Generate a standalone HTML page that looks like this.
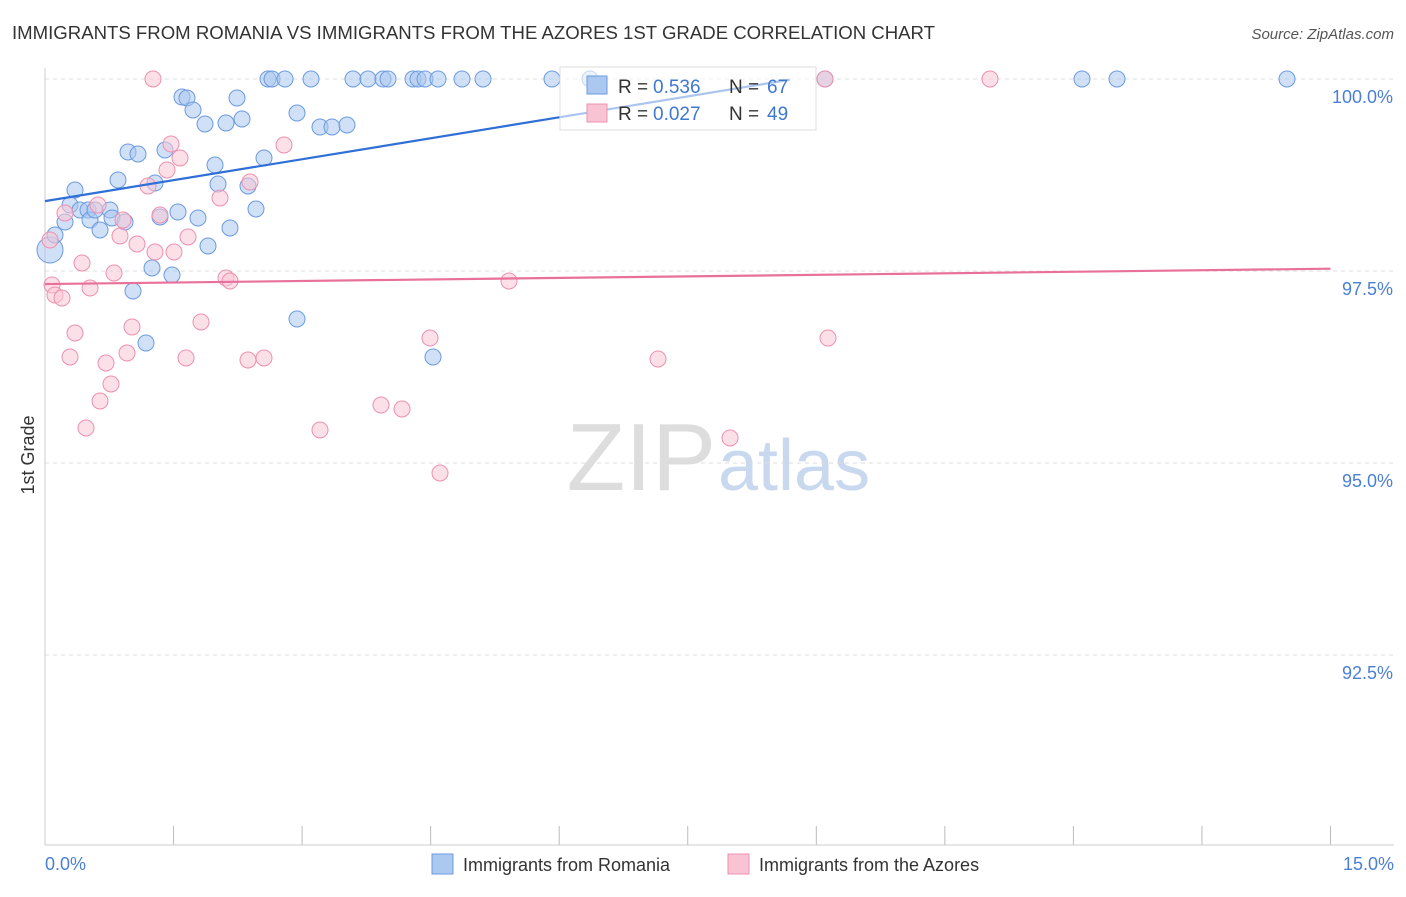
<!DOCTYPE html>
<html><head><meta charset="utf-8"><style>
body{margin:0;background:#fff;font-family:"Liberation Sans",sans-serif}
svg text{font-family:"Liberation Sans",sans-serif}
</style></head><body>
<svg width="1406" height="892" xmlns="http://www.w3.org/2000/svg">
<text x="12" y="39" font-size="18.6" fill="#333" textLength="923">IMMIGRANTS FROM ROMANIA VS IMMIGRANTS FROM THE AZORES 1ST GRADE CORRELATION CHART</text>
<text x="1394" y="39" font-size="15" fill="#555" font-style="italic" text-anchor="end">Source: ZipAtlas.com</text>
<text x="716" y="490" font-size="96" fill="#ddd" font-family="Liberation Serif" text-anchor="end">ZIP</text>
<text x="718" y="490" font-size="72" fill="#c8d8ef">atlas</text>
<g id="grid"></g>
<line x1="45" y1="68" x2="45" y2="845" stroke="#ccc"/>
<line x1="45" y1="845" x2="1394" y2="845" stroke="#ccc"/>
<text x="34" y="455" font-size="18" fill="#333" transform="rotate(-90 34 455)" text-anchor="middle">1st Grade</text>
<text x="45" y="870" font-size="18" fill="#4a7fd4">0.0%</text>
<text x="1394" y="870" font-size="18" fill="#4a7fd4" text-anchor="end">15.0%</text>
<g id="pts"></g>
<g>
<rect x="560" y="67" width="256" height="63" fill="#fff" fill-opacity="0.6" stroke="#ddd"/>
<rect x="587" y="76" width="20" height="18" fill="#aac8f0" stroke="#6c9be0"/>
<rect x="587" y="104" width="20" height="18" fill="#f8c4d4" stroke="#ec90b0"/>
<text x="618" y="93" font-size="19" fill="#333">R =</text>
<text x="653" y="93" font-size="19" fill="#3f78d0">0.536</text>
<text x="729" y="93" font-size="19" fill="#333">N =</text>
<text x="767" y="93" font-size="19" fill="#3f78d0">67</text>
<text x="618" y="120" font-size="19" fill="#333">R =</text>
<text x="653" y="120" font-size="19" fill="#3f78d0">0.027</text>
<text x="729" y="120" font-size="19" fill="#333">N =</text>
<text x="767" y="120" font-size="19" fill="#3f78d0">49</text>
</g>
<g>
<rect x="432" y="854" width="21" height="20" fill="#aac8f0" stroke="#6c9be0"/>
<text x="463" y="871" font-size="18" fill="#333">Immigrants from Romania</text>
<rect x="728" y="854" width="21" height="20" fill="#f8c4d4" stroke="#ec90b0"/>
<text x="759" y="871" font-size="18" fill="#333">Immigrants from the Azores</text>
</g>
</svg>
<script>
const yTicks=[100,97.5,95,92.5];
const xTicks=[0,1.5,3,4.5,6,7.5,9,10.5,12,13.5,15];
const blueX=[[50,250],[55,235],[65,222],[75,190],[70,205],[80,210],[88,210],[90,220],[100,230],[110,210],[112,218],[125,222],[118,180],[128,152],[138,154],[155,183],[165,150],[160,217],[178,212],[182,97],[187,98],[193,110],[205,124],[198,218],[215,165],[218,184],[226,123],[230,228],[237,98],[242,119],[208,246],[152,268],[172,275],[133,291],[146,343],[248,186],[256,209],[264,158],[268,79],[272,79],[285,79],[297,113],[297,319],[311,79],[320,127],[332,127],[347,125],[353,79],[368,79],[383,79],[388,79],[413,79],[418,79],[425,79],[438,79],[462,79],[483,79],[433,357],[552,79],[590,79],[825,79],[1082,79],[1117,79],[1287,79],[95,210]];
const pinkX=[[153,79],[990,79],[825,79],[50,240],[52,285],[55,295],[62,298],[65,213],[70,357],[75,333],[82,263],[86,428],[90,288],[98,205],[100,401],[106,363],[111,384],[114,273],[120,236],[123,220],[127,353],[132,327],[137,244],[148,186],[155,252],[160,215],[167,170],[171,144],[174,252],[180,158],[186,358],[188,237],[201,322],[220,198],[226,278],[230,281],[248,360],[250,182],[264,358],[284,145],[320,430],[381,405],[402,409],[430,338],[440,473],[509,281],[658,359],[730,438],[828,338]];
const blueData=blueX.map(p=>[(p[0]-45)/85.7,100-(p[1]-79)/76.8]);
const pinkData=pinkX.map(p=>[(p[0]-45)/85.7,100-(p[1]-79)/76.8]);
const blueTrend=[98.41,99.99];const blueTrendX=[0,8.69];
const pinkTrend=[97.33,97.53];const pinkTrendX=[0,15];
const sx=v=>45+v*85.7, sy=v=>79+(100-v)*76.8;
const NS="http://www.w3.org/2000/svg";
const grid=document.getElementById('grid'),pts=document.getElementById('pts');
yTicks.forEach(t=>{
 const l=document.createElementNS(NS,'line');
 l.setAttribute('x1',45);l.setAttribute('x2',1394);l.setAttribute('y1',sy(t));l.setAttribute('y2',sy(t));
 l.setAttribute('stroke','#ddd');l.setAttribute('stroke-dasharray','4,4');
 
 
 grid.appendChild(l);
 const tx=document.createElementNS(NS,'text');
 tx.setAttribute('x',1393);tx.setAttribute('y',sy(t)+24);tx.setAttribute('text-anchor','end');
 tx.setAttribute('font-size','18');tx.setAttribute('fill','#4a7fd4');tx.textContent=t.toFixed(1)+'%';
 
 
 grid.appendChild(tx);
});
xTicks.forEach(t=>{
 const l=document.createElementNS(NS,'line');
 l.setAttribute('x1',sx(t));l.setAttribute('x2',sx(t));l.setAttribute('y1',826);l.setAttribute('y2',845);
 l.setAttribute('stroke','#bbb');
 
 
 grid.appendChild(l);
});
function dots(data,fill,stroke,name){
 data.forEach((d,i)=>{
  const c=document.createElementNS(NS,'circle');
  c.setAttribute('cx',sx(d[0]));c.setAttribute('cy',sy(d[1]));c.setAttribute('r',i===0&&name==='romania-point'?13:8);
  c.setAttribute('fill',fill);c.setAttribute('fill-opacity','0.55');c.setAttribute('stroke',stroke);
  
  
  pts.appendChild(c);
 });
}
dots(blueData,'#a9c6ef','#6c9be0','romania-point');
dots(pinkData,'#f9c7d6','#ec90b0','azores-point');
function trend(xs,ys,col,name){
 const l=document.createElementNS(NS,'line');
 l.setAttribute('x1',sx(xs[0]));l.setAttribute('x2',sx(xs[1]));l.setAttribute('y1',sy(ys[0]));l.setAttribute('y2',sy(ys[1]));
 l.setAttribute('stroke',col);l.setAttribute('stroke-width','2.2');
 
 
 pts.appendChild(l);
}
trend(blueTrendX,blueTrend,'#2f6fd6','romania-trendline');
trend(pinkTrendX,pinkTrend,'#e8709a','azores-trendline');
</script>
</body></html>
